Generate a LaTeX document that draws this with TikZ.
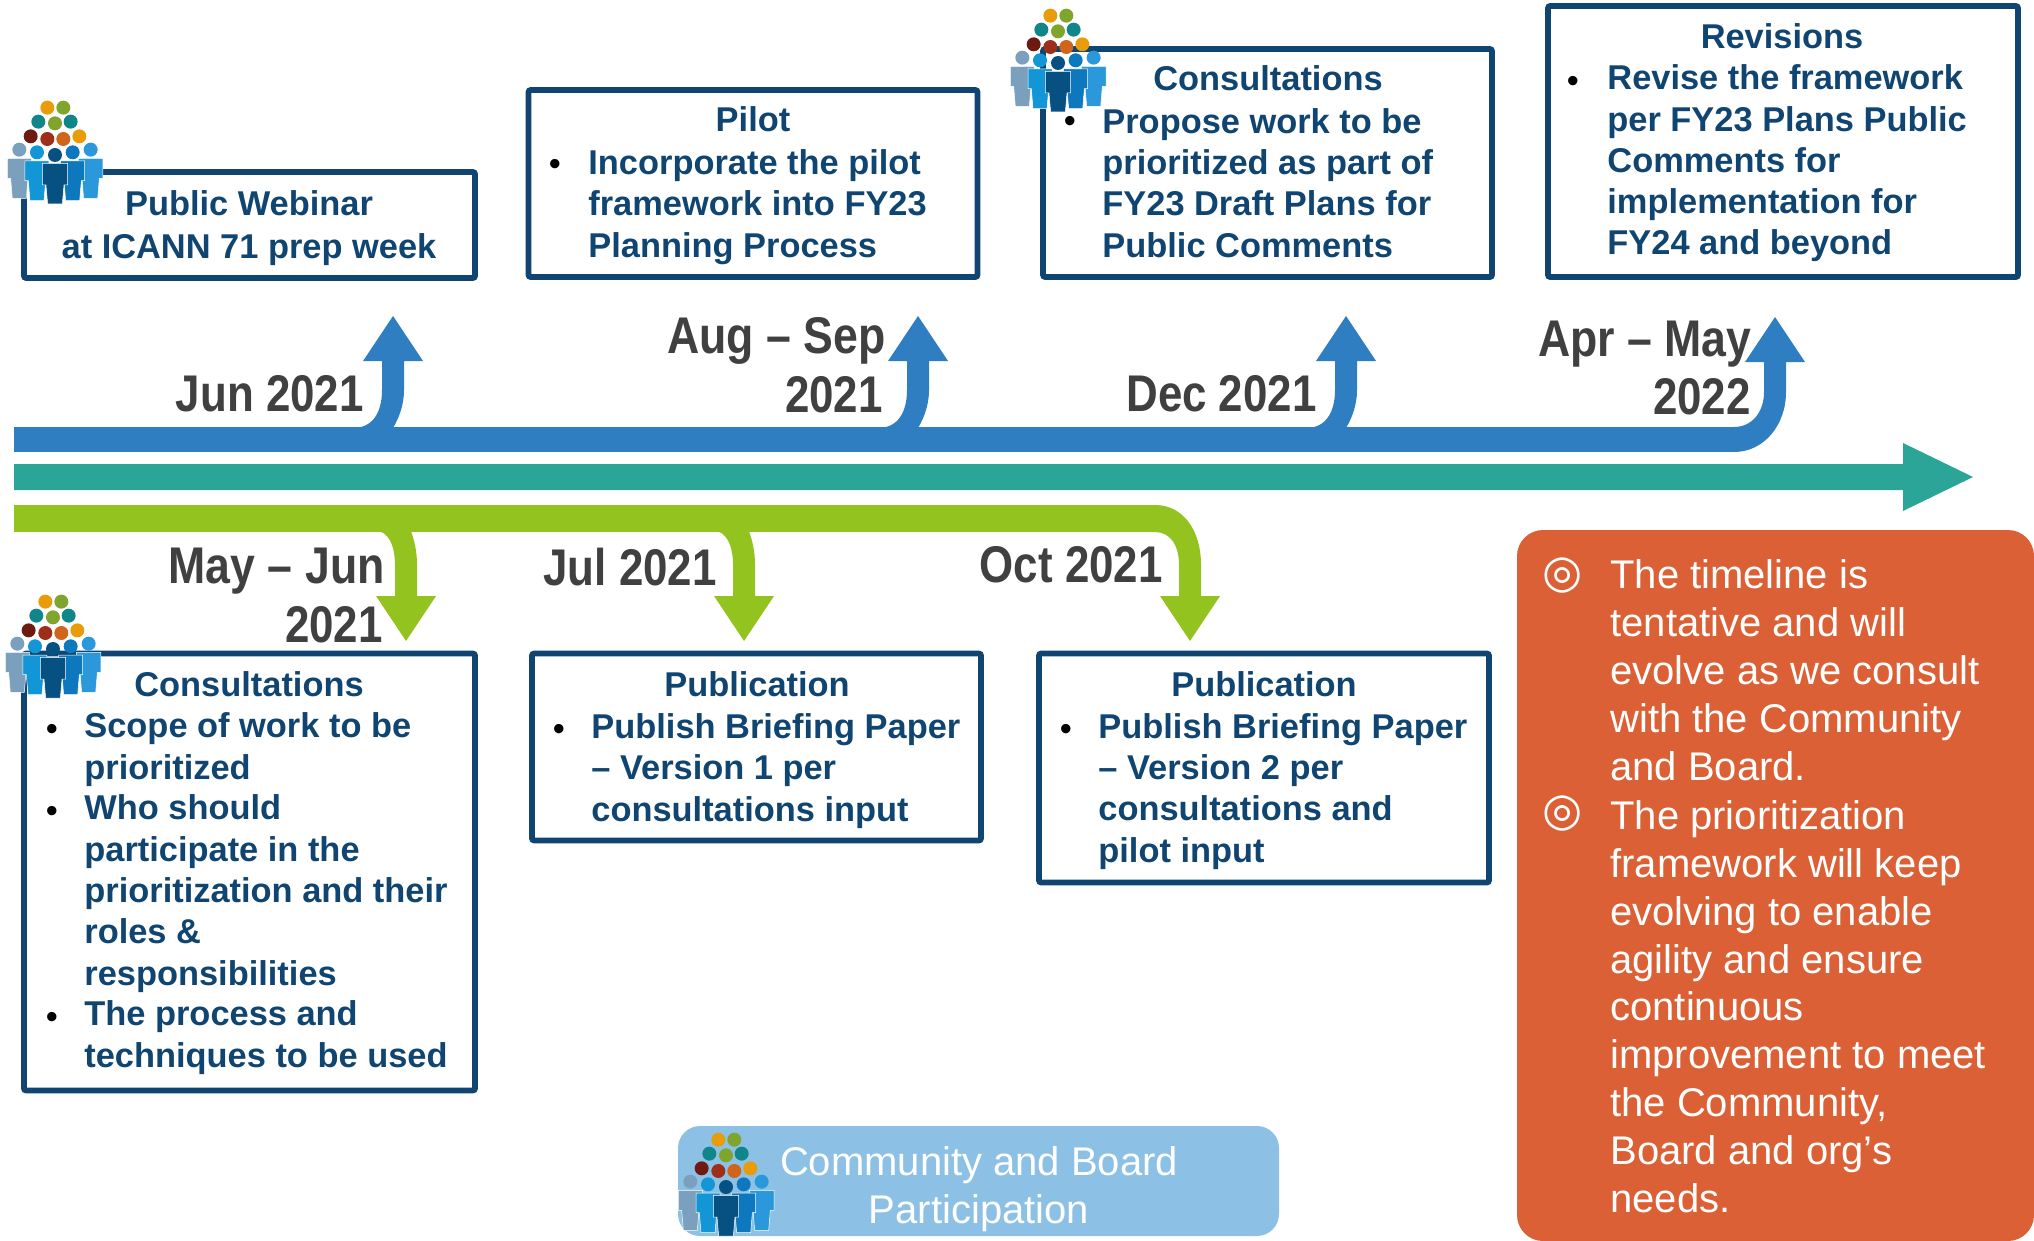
\documentclass[tikz,border=0pt]{standalone}
\usepackage{fontspec}
\usepackage{graphicx}
\setmainfont{Liberation Sans}
\newfontfamily\djv{DejaVu Sans}
\definecolor{navy}{HTML}{0F4570}
\definecolor{barblue}{HTML}{2F7EC1}
\definecolor{barteal}{HTML}{2AA598}
\definecolor{bargreen}{HTML}{92C31F}
\definecolor{panel}{HTML}{DC6035}
\definecolor{legendblue}{HTML}{8CC1E5}
\definecolor{dategrey}{HTML}{404040}
\definecolor{pgrey}{HTML}{7BA0BE}
\definecolor{pblue}{HTML}{1296D6}
\definecolor{pblueb}{HTML}{0E78BE}
\definecolor{plight}{HTML}{2A98DA}
\definecolor{pnavy}{HTML}{075082}
\definecolor{dorange}{HTML}{E89C0A}
\definecolor{dolive}{HTML}{80A52E}
\definecolor{dteal}{HTML}{10858A}
\definecolor{ddark}{HTML}{6E1A12}
\definecolor{dred}{HTML}{9C2E1A}
\definecolor{dburnt}{HTML}{D0641A}
\newcommand{\psn}[7]{\fill[#7,draw=white,line width=.25pt]
  (#1-#3,#2)--(#1+#3,#2)--(#1+#3,#4)--(#1+#5+5,#4)--(#1+#5,#6)--(#1-#5,#6)--(#1-#5-5,#4)--(#1-#3,#4)--cycle;}
\tikzset{
  x=.5pt,y=-.5pt,
  tb/.style={draw=navy,line width=2.8pt,rounded corners=1pt,fill=white,inner sep=0pt},
  ttl/.style={anchor=base,inner sep=0pt,text=navy,font=\fontsize{17.2}{20.65}\selectfont\bfseries},
  bdy/.style={anchor=base west,inner sep=0pt,align=left,text=navy,font=\fontsize{17.2}{20.65}\selectfont\bfseries},
  bul/.style={anchor=base,inner sep=0pt,text=black,font=\fontsize{17.2}{20.65}\selectfont},
  dat/.style={anchor=base east,inner sep=0pt,text=dategrey,font=\fontsize{25.8}{30}\selectfont\bfseries},
  ptxt/.style={anchor=base west,inner sep=0pt,align=left,text=white,font=\fontsize{20}{23.9}\selectfont},
  pbul/.style={anchor=base,inner sep=0pt,text=white,font=\fontsize{23}{23.9}\selectfont\djv},
  people/.pic={
    \fill[dorange] (142,53) circle (21);
    \fill[dolive] (190,53) circle (21);
    \fill[dteal] (115,95) circle (21);
    \fill[dolive] (165,100) circle (21);
    \fill[dteal] (212,95) circle (21);
    \fill[ddark] (92,139) circle (21);
    \fill[dred] (142,147) circle (21);
    \fill[dburnt] (190,147) circle (21);
    \fill[dorange] (238,139) circle (21);
    \fill[pgrey] (58,179) circle (21);
    \fill[plight] (272,179) circle (21);
    \psn{58}{205}{36}{265}{21}{325}{pgrey}
    \psn{272}{205}{37}{265}{21}{325}{plight}
    \fill[pblue] (111,187) circle (21);
    \fill[pblueb] (218,187) circle (21);
    \psn{111}{213}{36}{272}{21}{332}{pblue}
    \psn{218}{213}{36}{272}{21}{332}{pblueb}
    \fill[pnavy] (165,195) circle (21);
    \psn{165}{220}{38}{285}{22}{342}{pnavy}
  }
}
\newcommand{\uparr}[2][barblue]{\fill[#1] (#2-40,428) .. controls (#2-20,428) and (#2-11,412) .. (#2-11,390)
  -- (#2-11,361) -- (#2-30,361) -- (#2,316) -- (#2+30,361) -- (#2+11,361) -- (#2+11,390)
  .. controls (#2+11,405) and (#2+6,418) .. (#2,428) -- cycle;}
\newcommand{\dnarr}[1]{\fill[bargreen] (#1-30,531) .. controls (#1-18,531) and (#1-11,545) .. (#1-11,565)
  -- (#1-11,596) -- (#1-30,596) -- (#1,641) -- (#1+30,596) -- (#1+11,596) -- (#1+11,565)
  .. controls (#1+11,550) and (#1+8,540) .. (#1+5,531) -- cycle;}
\newcommand{\lab}[5][.85]{\node[dat] (#2) at (#3,#4) {\scalebox{#1}[1]{#5}};}
\begin{document}
\begin{tikzpicture}
\useasboundingbox (0,0) rectangle (2034,1241);
% panels
\begin{scope}
\clip (0,0) rectangle (2034,1241);
\fill[panel,rounded corners=13pt] (1517,530) rectangle (2034,1241);
\end{scope}
\fill[legendblue,rounded corners=11pt] (678,1126) rectangle (1279,1236);
% blue track
\fill[barblue] (14,427) rectangle (1734,452);
\uparr{393}\uparr{918}\uparr{1346}
\fill[barblue] (1734,427) .. controls (1752,427) and (1764,412) .. (1764,392)
  -- (1764,362) -- (1745,362) -- (1775,317) -- (1805,362) -- (1786,362) -- (1786,392)
  .. controls (1786,425) and (1764,452) .. (1734,452) -- cycle;
% teal track
\fill[barteal] (14,464) -- (1903,464) -- (1903,443) -- (1973,477) -- (1903,511) -- (1903,490) -- (14,490) -- cycle;
% green track
\fill[bargreen] (14,505) rectangle (1155,532);
\dnarr{406}\dnarr{744}
\fill[bargreen] (1155,505) .. controls (1183,505) and (1201,530) .. (1201,565)
  -- (1201,596) -- (1220,596) -- (1190,641) -- (1160,596) -- (1179,596) -- (1179,565)
  .. controls (1179,545) and (1170,532) .. (1155,532) -- cycle;
% boxes
\node[tb,minimum width=225.5pt,minimum height=53pt] (b1) at (249.5,225) {};
\node[tb,minimum width=224.5pt,minimum height=93.5pt] (b2) at (753,183.5) {};
\node[tb,minimum width=224.5pt,minimum height=114pt] (b3) at (1267.5,163) {};
\node[tb,minimum width=235pt,minimum height=135.5pt] (b4) at (1783,141.5) {};
\node[tb,minimum width=225.5pt,minimum height=218.5pt] (b5) at (249.5,872) {};
\node[tb,minimum width=224.5pt,minimum height=93.5pt] (b6) at (756.5,747) {};
\node[tb,minimum width=225pt,minimum height=114.5pt] (b7) at (1264,768) {};
% people icons
\pic[scale=1/3] at (0,90) {people};
\pic[scale=1/3] at (-2,584) {people};
\pic[scale=1/3] at (1003,-2) {people};
\pic[scale=1/3] at (671,1122) {people};
% date labels
\lab{d1}{364}{411}{Jun 2021}
\lab[.865]{d2}{886}{353}{Aug – Sep}
\lab{d2b}{883}{412}{2021}
\lab{d3}{1317}{411}{Dec 2021}
\lab[.865]{d4}{1752}{356}{Apr – May}
\lab{d4b}{1751}{414}{2022}
\lab[.865]{d5}{385}{583}{May – Jun}
\lab{d5b}{383}{642}{2021}
\lab{d6}{717}{585}{Jul 2021}
\lab{d7}{1163}{582}{Oct 2021}
% box 1
\node[ttl] (t1) at (249,216) {Public Webinar};
\node[ttl] (t1b) at (249,258) {at ICANN 71 prep week};
% box 2
\node[ttl] (t2) at (753,132) {Pilot};
\node[bul] (u2) at (555,176) {•};
\node[bdy] (x2) at (588,257) {Incorporate the pilot\\framework into FY23\\Planning Process};
% box 3
\node[ttl] (t3) at (1268,91) {Consultations};
\node[bul] (u3) at (1070,133) {•};
\node[bdy] (x3) at (1102,257) {Propose work to be\\prioritized as part of\\FY23 Draft Plans for\\Public Comments};
% box 4
\node[ttl] (t4) at (1782,49) {Revisions};
\node[bul] (u4) at (1573,93) {•};
\node[bdy] (x4) at (1607,255) {Revise the framework\\per FY23 Plans Public\\Comments for\\implementation for\\FY24 and beyond};
% box 5
\node[ttl] (t5) at (249,696) {Consultations};
\node[bul] (u5a) at (52,740) {•};
\node[bdy] (x5a) at (84,779) {Scope of work to be\\prioritized};
\node[bul] (u5b) at (52,822) {•};
\node[bdy] (x5b) at (84,985) {Who should\\participate in the\\prioritization and their\\roles \&\\responsibilities};
\node[bul] (u5c) at (52,1028) {•};
\node[bdy] (x5c) at (84,1067) {The process and\\techniques to be used};
% box 6
\node[ttl] (t6) at (757,696) {Publication};
\node[bul] (u6) at (559,740) {•};
\node[bdy] (x6) at (591,821) {Publish Briefing Paper\\– Version 1 per\\consultations input};
% box 7
\node[ttl] (t7) at (1264,696) {Publication};
\node[bul] (u7) at (1066,740) {•};
\node[bdy] (x7) at (1098,862) {Publish Briefing Paper\\– Version 2 per\\consultations and\\pilot input};
% orange panel text
\node[pbul] (p1) at (1563,587) {◎};
\node[ptxt] (q1) at (1610,780) {The timeline is\\tentative and will\\evolve as we consult\\with the Community\\and Board.};
\node[pbul] (p2) at (1563,825) {◎};
\node[ptxt] (q2) at (1610,1212) {The prioritization\\framework will keep\\evolving to enable\\agility and ensure\\continuous\\improvement to meet\\the Community,\\Board and org’s\\needs.};
% legend
\node[anchor=base,inner sep=0pt,align=center,text=white,font=\fontsize{20}{24}\selectfont] (leg) at (979,1223) {Community and Board\\Participation};
\end{tikzpicture}
\end{document}
